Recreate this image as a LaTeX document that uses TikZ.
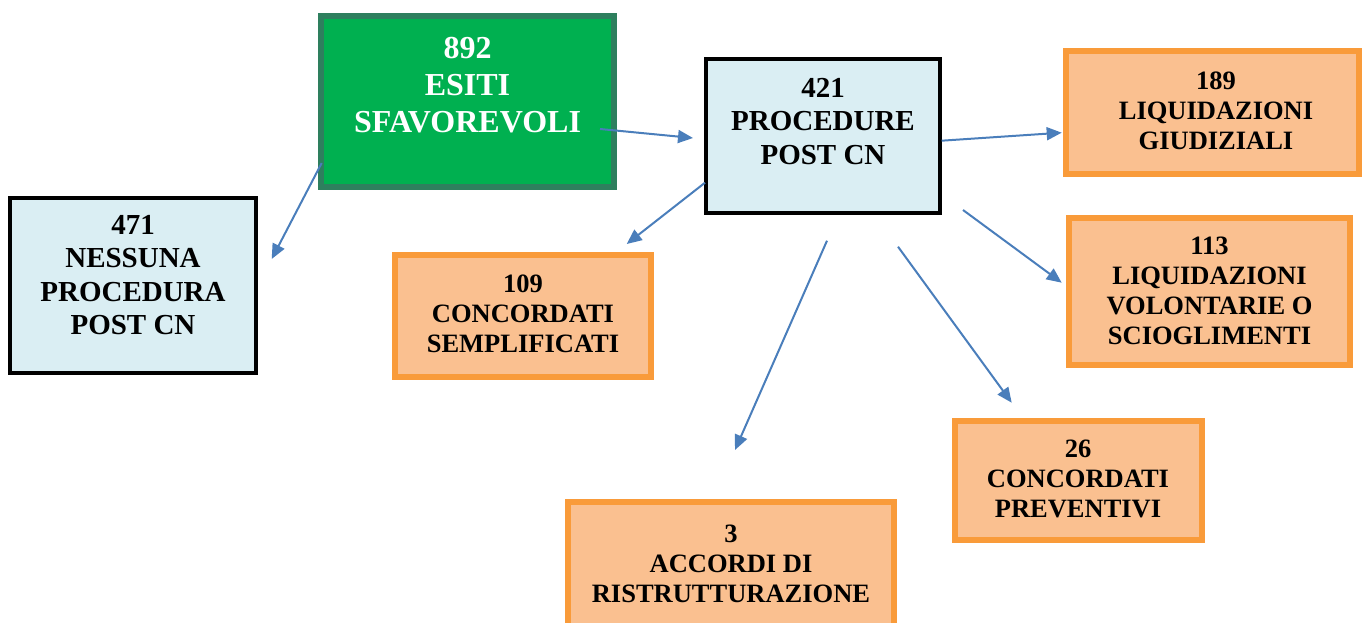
\documentclass[tikz,border=0pt]{standalone}
\usepackage{fontspec}
\setmainfont{Liberation Serif}
\usetikzlibrary{arrows.meta}
\definecolor{gfill}{HTML}{00B050}
\definecolor{gdraw}{HTML}{2E7F5E}
\definecolor{bfill}{HTML}{DAEEF3}
\definecolor{ofill}{HTML}{FAC090}
\definecolor{odraw}{HTML}{F99B3A}
\definecolor{arr}{HTML}{4A7EBB}
\tikzset{
  gbox/.style={draw=gdraw, fill=gfill, line width=6pt, inner sep=0pt},
  bbox/.style={draw=black, fill=bfill, line width=4pt, inner sep=0pt},
  obox/.style={draw=odraw, fill=ofill, line width=6pt, inner sep=0pt},
  gtext/.style={anchor=north, inner sep=0pt, align=center, text=white, font=\fontsize{32}{37}\selectfont\bfseries},
  btext/.style={anchor=north, inner sep=0pt, align=center, text=black, font=\fontsize{29}{33.5}\selectfont\bfseries},
  otext/.style={anchor=north, inner sep=0pt, align=center, text=black, font=\fontsize{26.5}{30}\selectfont\bfseries},
  conn/.style={draw=arr, line width=2pt, -{Triangle[length=15pt,width=13pt]}}
}
\begin{document}
\begin{tikzpicture}[x=1pt,y=-1pt]
\useasboundingbox (0,0) rectangle (1362,623);
\clip (0,0) rectangle (1362,623);
% boxes
\node[gbox, minimum width=293pt, minimum height=171pt] (G) at (467.5,101.5) {};
\node[bbox, minimum width=246pt, minimum height=175pt] (N) at (133,285.5) {};
\node[bbox, minimum width=234pt, minimum height=154pt] (P) at (823,136) {};
\node[obox, minimum width=293pt, minimum height=123pt] (LG) at (1212.5,112.5) {};
\node[obox, minimum width=281pt, minimum height=147pt] (LV) at (1209.5,291.5) {};
\node[obox, minimum width=256pt, minimum height=122pt] (CS) at (523,316) {};
\node[obox, minimum width=326pt, minimum height=150pt] (AR) at (731,577) {};
\node[obox, minimum width=247pt, minimum height=119pt] (CP) at (1078.5,480.5) {};
% texts
\node[gtext] (Gt) at (467.5,37) {892\\ESITI\\SFAVOREVOLI};
\node[btext] (Nt) at (133,215) {471\\NESSUNA\\PROCEDURA\\POST CN};
\node[btext] (Pt) at (823,78) {421\\PROCEDURE\\POST CN};
\node[otext] (LGt) at (1216,72) {189\\LIQUIDAZIONI\\GIUDIZIALI};
\node[otext] (LVt) at (1209.5,237) {113\\LIQUIDAZIONI\\VOLONTARIE O\\SCIOGLIMENTI};
\node[otext] (CSt) at (523,275) {109\\CONCORDATI\\SEMPLIFICATI};
\node[otext] (ARt) at (731,525) {3\\ACCORDI DI\\RISTRUTTURAZIONE};
\node[otext] (CPt) at (1078,440) {26\\CONCORDATI\\PREVENTIVI};
% connector end points
\coordinate (g1) at (321.7,163);
\coordinate (n1) at (271.7,259);
\coordinate (g2) at (600,129);
\coordinate (p1) at (693,138);
\coordinate (p2) at (705,182.7);
\coordinate (cs1) at (626.7,244);
\coordinate (p3) at (827,240.7);
\coordinate (ar1) at (735,450);
\coordinate (p4) at (898,246.7);
\coordinate (cp1) at (1011.7,402.7);
\coordinate (p5) at (963,210);
\coordinate (lv1) at (1061.7,282.7);
\coordinate (p6) at (941.7,140.7);
\coordinate (lg1) at (1061.7,132.7);
% connectors
\draw[conn] (g1) -- (n1);
\draw[conn] (g2) -- (p1);
\draw[conn] (p2) -- (cs1);
\draw[conn] (p3) -- (ar1);
\draw[conn] (p4) -- (cp1);
\draw[conn] (p5) -- (lv1);
\draw[conn] (p6) -- (lg1);
\end{tikzpicture}
\end{document}
